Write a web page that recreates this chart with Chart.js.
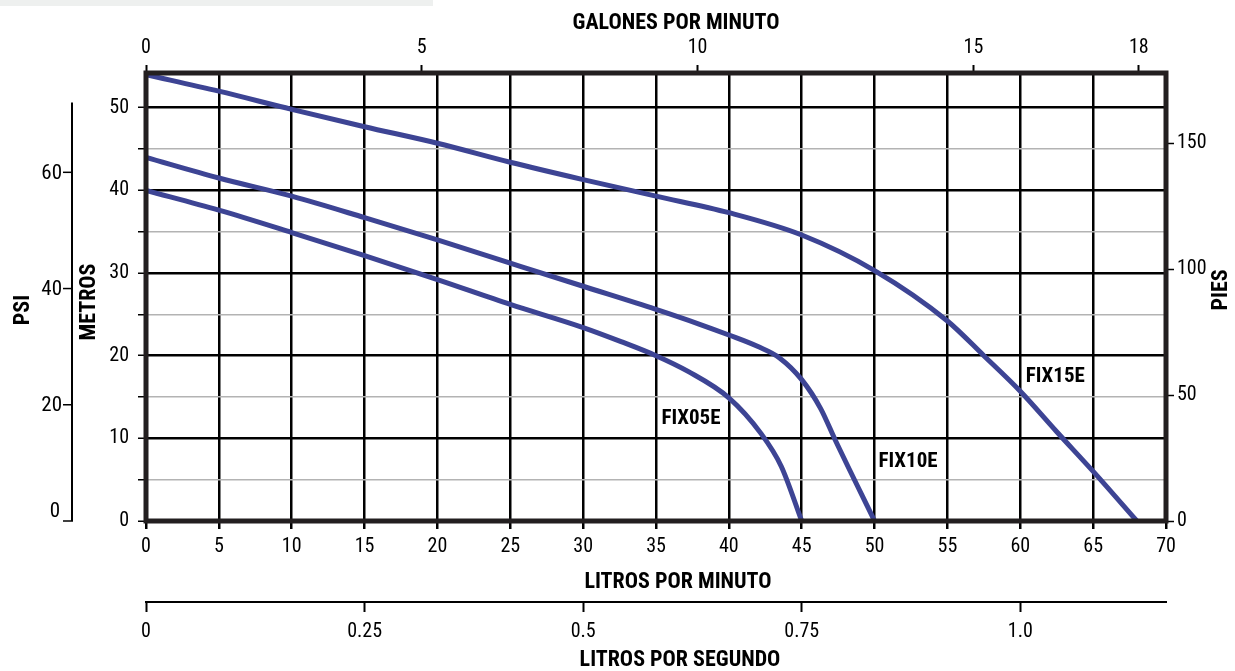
<!DOCTYPE html>
<html>
<head>
<meta charset="utf-8">
<script src="https://cdn.jsdelivr.net/npm/chart.js@4.4.1/dist/chart.umd.min.js"></script>
<style>
html,body{margin:0;padding:0;background:#fff;}
#wrap{width:1235px;height:671px;position:relative;}
</style>
</head>
<body>
<div id="wrap"><canvas id="c" width="1235" height="671"></canvas></div>
<script>
// ---------- data ----------
const flowTicks = [0,5,10,15,20,25,30,35,40,45,50,55,60,65,70];
const metrosTicks = [0,5,10,15,20,25,30,35,40,45,50];
const metrosLabels = ['0','','10','','20','','30','','40','','50'];
const galonesTicks = [0,5,10,15,18];
const piesTicks = [0,50,100,150];
const psiTicks = [0,20,40,60];
const lpsTicks = [0,0.25,0.5,0.75,1.0];
const lpsLabels = ['0','0.25','0.5','0.75','1.0'];

const seriesNames = ['FIX05E','FIX10E','FIX15E'];

const fix05Flow = [0,5,10,15,20,25,30,32.6,35,37.2,40,42.2,43.6,45];
const fix05Head = [40.0,37.6,34.9,32.1,29.2,26.2,23.4,21.7,20.0,18.1,14.9,10.6,6.6,0];

const fix10Flow = [0,5,10,15,20,25,30,35,38,40,42,43.5,45,46.3,47.3,50];
const fix10Head = [44.0,41.5,39.3,36.7,34.0,31.2,28.4,25.6,23.8,22.5,21.1,19.7,17.1,13.6,9.8,0];

const fix15Flow = [0,5,10,15,20,25,30,35,40,45,50,55,57.5,60,62.5,65,68];
const fix15Head = [54.0,52.0,49.8,47.7,45.7,43.4,41.3,39.3,37.3,34.6,30.3,24.2,20.0,15.7,10.8,6.0,0];

const FLOW_MAX = 70, HEAD_MAX = 54.2, PSI_AXIS_TOP = 72;
const LPM_PER_GPM = 3.78541, FT_PER_M = 3.28084, PSI_PER_M = 1.42233, LPM_PER_LPS = 60;

// ---------- styles ----------
const FONT = '"Liberation Sans Narrow","Arial Narrow","Roboto Condensed","DejaVu Sans Condensed",sans-serif';
const LINE_COLOR = '#3d4494';
const FRAME_COLOR = '#231f20';
const tickFont = {family: FONT, size: 20};
const titleFont = 'bold 22px ' + FONT;
const seriesLabelPos = [
  {x: 37.4, y: 12.4},
  {x: 52.3, y: 7.2},
  {x: 62.4, y: 17.5}
];
const titles = [
  {text: 'GALONES POR MINUTO', x: 676, y: 23, rot: 0},
  {text: 'LITROS POR MINUTO', x: 678, y: 582, rot: 0},
  {text: 'LITROS POR SEGUNDO', x: 680, y: 660, rot: 0},
  {text: 'METROS', x: 89, y: 302, rot: -Math.PI/2},
  {text: 'PSI', x: 23, y: 310, rot: -Math.PI/2},
  {text: 'PIES', x: 1221, y: 290, rot: -Math.PI/2}
];

Chart.defaults.font.family = FONT;
Chart.defaults.color = '#000';

function pts(xs, ys){ return xs.map((x,i)=>({x:x, y:ys[i]})); }
function setTicks(arr){ return function(scale){ scale.ticks = arr.map(v=>({value:v})); }; }

const decor = {
  id: 'decor',
  beforeDraw(chart){
    const c = chart.ctx;
    c.save();
    c.fillStyle = '#eef0ef';
    c.fillRect(0, 0, 433, 6);
    c.restore();
  },
  afterDatasetsDraw(chart){
    const c = chart.ctx, a = chart.chartArea;
    const xs = chart.scales.x, ys = chart.scales.y;
    c.save();
    // frame
    c.strokeStyle = FRAME_COLOR;
    c.lineWidth = 5;
    c.strokeRect(a.left, a.top, a.right - a.left, a.bottom - a.top);
    // series labels
    c.fillStyle = '#000';
    c.font = 'bold 21px ' + FONT;
    c.textAlign = 'center';
    c.textBaseline = 'middle';
    seriesNames.forEach((n,i)=>{
      const p = seriesLabelPos[i];
      c.fillText(n, xs.getPixelForValue(p.x), ys.getPixelForValue(p.y));
    });
    // PSI axis
    const px = 72;
    c.strokeStyle = '#000';
    c.lineWidth = 2;
    c.beginPath();
    c.moveTo(px, ys.getPixelForValue(PSI_AXIS_TOP / PSI_PER_M));
    c.lineTo(px, ys.getPixelForValue(0));
    c.stroke();
    c.lineWidth = 1.5;
    c.font = '21px ' + FONT;
    c.textAlign = 'right';
    psiTicks.forEach(v=>{
      const y = ys.getPixelForValue(v / PSI_PER_M);
      c.beginPath();
      c.moveTo(px - 9, y);
      c.lineTo(px + 1, y);
      c.stroke();
      if (v === 0) { c.textBaseline = 'bottom'; c.fillText(String(v), px - 12, y + 1); }
      else { c.textBaseline = 'middle'; c.fillText(String(v), px - 10, y + 1); }
    });
    // titles
    c.font = titleFont;
    c.textAlign = 'center';
    c.textBaseline = 'middle';
    titles.forEach(t=>{
      c.save();
      c.translate(t.x, t.y);
      c.rotate(t.rot);
      c.fillText(t.text, 0, 0);
      c.restore();
    });
    c.restore();
  }
};

const ds = (label, xs, ys) => ({
  label: label,
  data: pts(xs, ys),
  borderColor: LINE_COLOR,
  borderWidth: 5,
  pointRadius: 0,
  fill: false,
  cubicInterpolationMode: 'monotone',
  xAxisID: 'x',
  yAxisID: 'y'
});

new Chart(document.getElementById('c'), {
  type: 'line',
  data: {
    datasets: [
      ds(seriesNames[0], fix05Flow, fix05Head),
      ds(seriesNames[1], fix10Flow, fix10Head),
      ds(seriesNames[2], fix15Flow, fix15Head)
    ]
  },
  plugins: [decor],
  options: {
    responsive: false,
    animation: false,
    devicePixelRatio: 1,
    layout: {padding: 0},
    plugins: {legend: {display: false}, tooltip: {enabled: false}},
    scales: {
      x: {
        type: 'linear', position: 'bottom', weight: 0,
        min: 0, max: FLOW_MAX,
        afterBuildTicks: setTicks(flowTicks),
        afterFit: s => { s.height = 81; },
        ticks: {font: tickFont, padding: 6, maxRotation: 0, autoSkip: false, callback: v => String(v)},
        grid: {color: '#000', lineWidth: 2.5, tickColor: '#000', tickWidth: 2.5, tickLength: 8},
        border: {display: false}
      },
      x2: {
        type: 'linear', position: 'bottom', weight: 1,
        min: 0, max: FLOW_MAX / LPM_PER_LPS,
        afterBuildTicks: setTicks(lpsTicks),
        afterFit: s => { s.height = 69; },
        ticks: {font: tickFont, padding: 8, maxRotation: 0, autoSkip: false, callback: (v,i) => lpsLabels[i]},
        grid: {drawOnChartArea: false, tickColor: '#000', tickWidth: 2, tickLength: 10},
        border: {display: true, color: '#000', width: 2}
      },
      xg: {
        type: 'linear', position: 'top',
        min: 0, max: FLOW_MAX / LPM_PER_GPM,
        afterBuildTicks: setTicks(galonesTicks),
        afterFit: s => { s.height = 73; },
        ticks: {font: tickFont, padding: 5, maxRotation: 0, autoSkip: false, callback: v => String(v)},
        grid: {drawOnChartArea: false, tickColor: '#000', tickWidth: 2, tickLength: 8},
        border: {display: false}
      },
      y: {
        type: 'linear', position: 'left',
        min: 0, max: HEAD_MAX,
        afterBuildTicks: setTicks(metrosTicks),
        afterFit: s => { s.width = 146; },
        ticks: {font: tickFont, padding: 9, autoSkip: false, callback: (v,i) => metrosLabels[i]},
        grid: {
          color: c => (c.tick && c.tick.value % 10 === 0) ? '#000' : '#b3b3b3',
          lineWidth: c => (c.tick && c.tick.value % 10 === 0) ? 2.5 : 1.5,
          tickColor: '#000', tickWidth: 1.5, tickLength: 8
        },
        border: {display: false}
      },
      yp: {
        type: 'linear', position: 'right',
        min: 0, max: HEAD_MAX * FT_PER_M,
        afterBuildTicks: setTicks(piesTicks),
        afterFit: s => { s.width = 69; },
        ticks: {font: tickFont, padding: 3, autoSkip: false, callback: v => String(v)},
        grid: {drawOnChartArea: false, tickColor: '#000', tickWidth: 1.5, tickLength: 8},
        border: {display: false}
      }
    }
  }
});
</script>
</body>
</html>
